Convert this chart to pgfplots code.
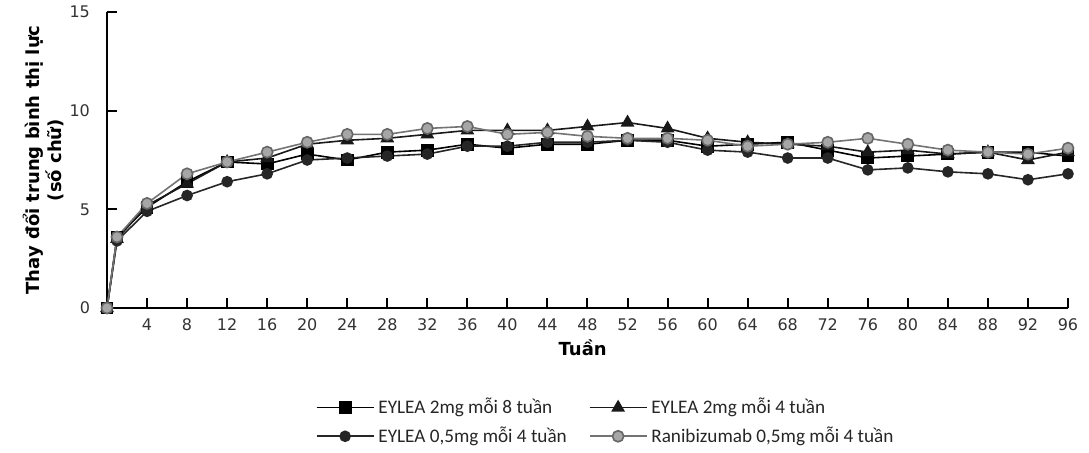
\documentclass[border=0pt]{standalone}
\usepackage{fontspec}
\setmainfont{DejaVu Sans}
\newfontfamily\legfont{Carlito}
\usepackage{pgfplots}
\pgfplotsset{compat=1.18}
\usepackage{pgfplotstable}

% week, EYLEA 2mg q8, EYLEA 2mg q4, EYLEA 0.5mg q4, ranibizumab 0.5mg q4
\pgfplotstableread{
week q8  q4  lo  rbz
0    0   0   0   0
1    3.6 3.5 3.4 3.6
4    5.1 5.2 4.9 5.3
8    6.4 6.3 5.7 6.8
12   7.4 7.4 6.4 7.4
16   7.3 7.6 6.8 7.9
20   7.8 8.3 7.5 8.4
24   7.5 8.5 7.6 8.8
28   7.9 8.6 7.7 8.8
32   8.0 8.8 7.8 9.1
36   8.3 9.0 8.2 9.2
40   8.1 9.0 8.2 8.8
44   8.3 9.0 8.4 8.9
48   8.3 9.2 8.4 8.7
52   8.5 9.4 8.5 8.6
56   8.5 9.1 8.4 8.6
60   8.2 8.6 8.0 8.5
64   8.3 8.4 7.9 8.2
68   8.4 8.3 7.6 8.3
72   8.0 8.2 7.6 8.4
76   7.6 7.9 7.0 8.6
80   7.7 8.0 7.1 8.3
84   7.8 7.8 6.9 8.0
88   7.9 7.9 6.8 7.9
92   7.9 7.5 6.5 7.8
96   7.7 7.9 6.8 8.1
}\vadata

\begin{document}
\begin{tikzpicture}
\useasboundingbox (-53.5pt,-72pt) rectangle (491pt,154pt);
\begin{axis}[
  scale only axis, width=480.5pt, height=148pt,
  xmin=0, xmax=96, ymin=0, ymax=15,
  clip=false,
  axis lines=left,
  axis line style={-, black, line width=1pt},
  y axis line style={line width=1.4pt},
  xtick={4,8,...,96}, ytick={0,5,10,15},
  tick align=inside, major tick length=5pt,
  tick style={black, line width=1pt},
  ticklabel style={font=\fontsize{8}{9}\selectfont, text=black!80},
  /pgf/number format/assume math mode=true,
  xticklabel style={yshift=-2pt},
  yticklabel style={xshift=-5pt},
  xlabel={Tuần},
  xlabel style={at={(axis description cs:0.495,0)}, anchor=center, yshift=-20pt,
    font=\bfseries\fontsize{9}{11}\selectfont},
  ylabel={Thay đổi trung bình thị lực\\(số chữ)},
  ylabel style={at={(axis description cs:-0.066,0.5)}, anchor=center,
    align=center, font=\bfseries\fontsize{9}{11}\selectfont},
  legend columns=2,
  legend cell align=left,
  legend style={at={(0.52,-0.385)}, anchor=center, draw=none, fill=none,
    font=\legfont\fontsize{9.6}{10}\selectfont, text=black!85,
    row sep=1pt,
    /tikz/every even column/.append style={column sep=9pt}},
  legend image code/.code={\draw[mark repeat=2,mark phase=2,#1]
    plot coordinates {(0cm,0cm) (0.5cm,0cm) (1cm,0cm)};},
]
\addplot[black, line width=0.8pt, mark=square*, mark size=2.8pt] table[x=week,y=q8] {\vadata};
\addlegendentry{EYLEA 2mg mỗi 8 tuần}
\addplot[black!90, line width=0.8pt, mark=triangle*, mark size=3.2pt] table[x=week,y=q4] {\vadata};
\addlegendentry{EYLEA 2mg mỗi 4 tuần}
\addplot[black!85, line width=0.8pt, mark=*, mark size=2.5pt] table[x=week,y=lo] {\vadata};
\addlegendentry{EYLEA 0,5mg mỗi 4 tuần}
\addplot[black!55, line width=0.8pt, mark=*, mark size=2.8pt,
  mark options={fill=black!35, draw=black!60}] table[x=week,y=rbz] {\vadata};
\addlegendentry{Ranibizumab 0,5mg mỗi 4 tuần}
\end{axis}
\end{tikzpicture}
\end{document}
